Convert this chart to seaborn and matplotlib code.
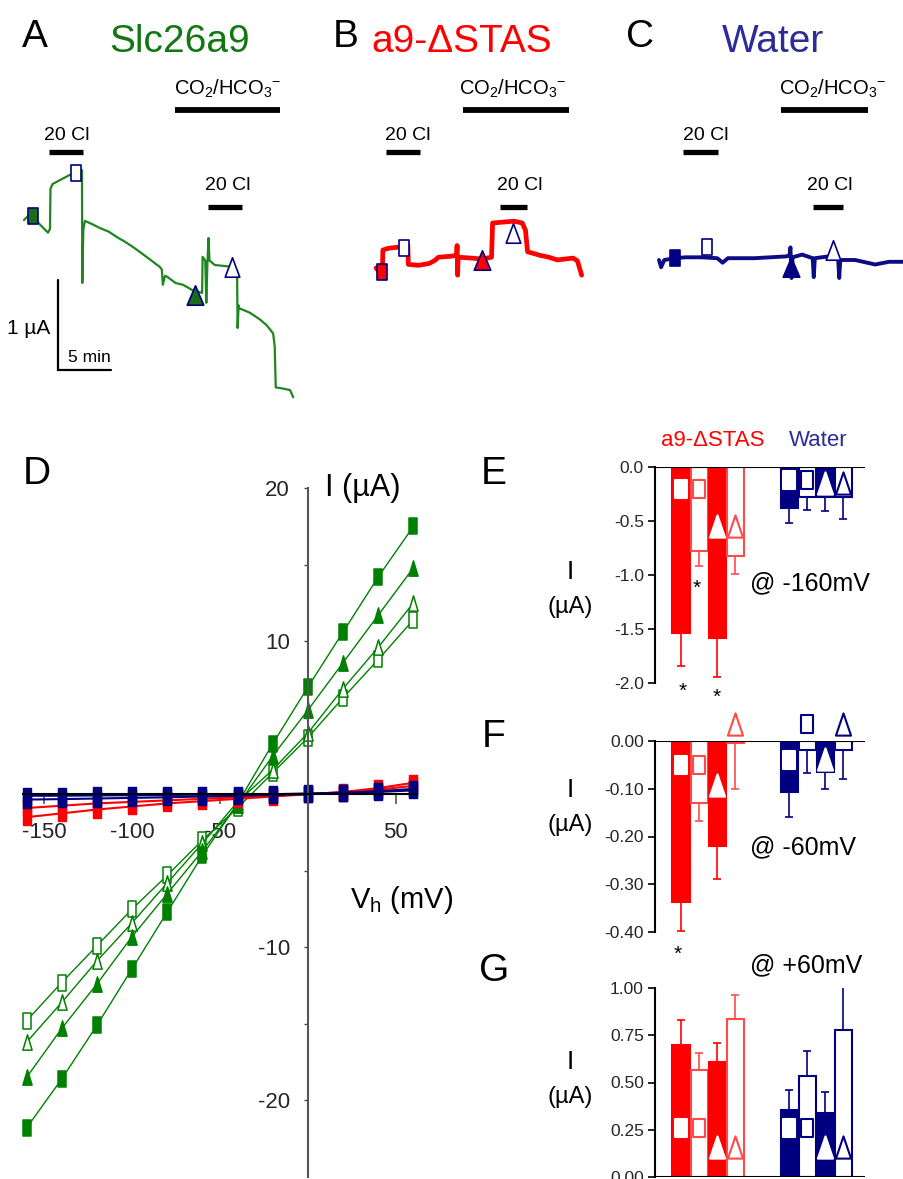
import matplotlib
matplotlib.use("Agg")
import matplotlib.pyplot as plt
from matplotlib.path import Path
from matplotlib.lines import Line2D
from matplotlib.ticker import FormatStrFormatter, FixedLocator
import seaborn as sns

sns.set_theme(style="white")
plt.rcParams["font.family"] = ["Liberation Sans Narrow", "Liberation Sans", "DejaVu Sans"]
plt.rcParams["axes.unicode_minus"] = False

GREEN = "#1f861f"
GREEN_D = "#008000"
GREEN_T = "#117711"
RED = "#ff0000"
RED_L = "#ff4a4a"
NAVY = "#000080"
NAVY_T = "#2b2b99"

# ---- traces (time in min, current in uA, relative to start) ----
TA_T = [0.0, 0.5, 0.85, 1.5, 2.26, 2.45, 2.5, 2.7, 3.5, 4.3, 4.9, 5.4, 5.47, 5.5, 5.6, 5.75,
        6.5, 7.17, 8.0, 8.77, 9.5, 10.28, 11.1, 11.9, 12.8, 13.0, 13.1, 13.3, 13.5, 14.3, 15.0,
        15.9, 16.5, 16.8, 16.85, 17.1, 17.2, 17.3, 17.4, 17.5, 18.0, 18.8, 19.6, 20.1, 20.15,
        20.25, 20.3, 21.3, 22.2, 22.9, 23.5, 23.65, 23.75, 24.3, 25.1, 25.4]
TA_I = [0.0, 0.06, 0.04, -0.05, -0.14, -0.10, 0.35, 0.40, 0.45, 0.50, 0.53, 0.56, 0.55, -0.70,
        -0.10, -0.01, -0.05, -0.09, -0.13, -0.19, -0.24, -0.30, -0.37, -0.44, -0.52, -0.55, -0.72,
        -0.62, -0.63, -0.70, -0.72, -0.78, -0.80, -0.81, -0.41, -0.45, -0.92, -0.50, -0.20, -0.45,
        -0.50, -0.51, -0.52, -0.56, -1.20, -0.95, -0.98, -1.03, -1.10, -1.17, -1.26, -1.40, -1.86,
        -1.87, -1.89, -1.97]
TA_MARK_T = [0.85, 4.9, 16.1, 19.6]
TA_MARK_I = [0.04, 0.52, -0.83, -0.52]

TB_T = [0.0, 0.3, 0.6, 0.65, 1.2, 2.0, 2.6, 3.0, 3.05, 4.0, 5.0, 5.5, 5.9, 7.0, 7.6, 7.65, 7.7,
        7.75, 9.0, 10.0, 10.9, 11.0, 12.0, 13.0, 13.8, 14.1, 14.3, 15.5, 16.3, 17.1, 18.6, 19.0, 19.4]
TB_I = [0.0, -0.04, -0.03, 0.20, 0.22, 0.23, 0.24, 0.26, 0.04, 0.03, 0.05, 0.08, 0.12, 0.13, 0.14,
        0.25, -0.08, 0.12, 0.11, 0.10, 0.12, 0.50, 0.51, 0.52, 0.50, 0.42, 0.18, 0.14, 0.12, 0.09,
        0.11, 0.08, -0.08]
TB_MARK_T = [0.57, 2.64, 10.0, 12.9]
TB_MARK_I = [-0.04, 0.22, 0.09, 0.39]

TC_T = [0.0, 0.2, 0.5, 1.5, 2.5, 4.0, 5.5, 6.0, 6.5, 9.0, 12.0, 12.3, 12.4, 12.5, 12.6, 13.5, 14.5,
        14.6, 14.7, 16.0, 16.9, 17.0, 17.1, 18.5, 20.4, 21.7, 23.2]
TC_I = [0.0, -0.08, 0.0, 0.02, 0.03, 0.03, 0.02, -0.03, 0.02, 0.02, 0.04, 0.05, 0.14, -0.20, 0.03,
        0.06, 0.02, -0.19, 0.02, 0.04, 0.02, -0.20, 0.0, 0.0, -0.05, -0.02, -0.02]
TC_MARK_T = [1.5, 4.5, 12.5, 16.4]
TC_MARK_I = [0.02, 0.14, -0.08, 0.11]

# ---- I/V curves ----
VH = [-160, -140, -120, -100, -80, -60, -40, -20, 0, 20, 40, 60]
SLC_FSQ = [-21.8, -18.6, -15.1, -11.4, -7.7, -4.0, -0.6, 3.3, 7.0, 10.6, 14.2, 17.5]
SLC_OSQ = [-14.8, -12.3, -9.9, -7.5, -5.3, -3.0, -0.9, 1.4, 3.7, 6.3, 8.8, 11.4]
SLC_FTRI = [-18.5, -15.3, -12.4, -9.3, -6.5, -3.7, -0.7, 2.5, 5.5, 8.6, 11.7, 14.8]
SLC_OTRI = [-16.2, -13.6, -10.9, -8.4, -5.8, -3.2, -0.5, 1.6, 4.0, 6.9, 9.6, 12.5]
STAS_1 = [-1.5, -1.25, -1.0, -0.8, -0.6, -0.45, -0.3, -0.15, 0.0, 0.15, 0.4, 0.75]
STAS_2 = [-0.9, -0.75, -0.6, -0.5, -0.4, -0.3, -0.2, -0.1, 0.0, 0.1, 0.3, 0.55]
WATER_1 = [-0.35, -0.32, -0.28, -0.24, -0.2, -0.15, -0.1, -0.05, 0.0, 0.1, 0.2, 0.35]
WATER_2 = [-0.1, -0.1, -0.08, -0.07, -0.05, -0.03, -0.02, 0.0, 0.05, 0.1, 0.15, 0.25]

# ---- bar panels: a9-dSTAS (4 bars) then Water (4 bars) ----
BAR_POS = [0, 1, 2, 3, 6, 7, 8, 9]
E_MEAN = [-1.54, -0.78, -1.58, -0.82, -0.38, -0.28, -0.28, -0.28]
E_ERR = [0.30, 0.14, 0.36, 0.17, 0.14, 0.12, 0.13, 0.20]
E_SYM = [-0.20, -0.20, -0.55, -0.55, -0.12, -0.12, -0.15, -0.15]
F_MEAN = [-0.337, -0.129, -0.220, -0.004, -0.106, -0.018, -0.065, -0.018]
F_ERR = [0.060, 0.038, 0.069, 0.096, 0.053, 0.049, 0.035, 0.062]
F_SYM = [-0.05, -0.05, -0.092, 0.035, -0.04, 0.035, -0.038, 0.035]
G_MEAN = [0.70, 0.565, 0.61, 0.835, 0.355, 0.535, 0.34, 0.777]
G_ERR = [0.13, 0.09, 0.10, 0.13, 0.105, 0.13, 0.11, 0.25]
G_SYM = [0.26, 0.26, 0.16, 0.16, 0.26, 0.26, 0.16, 0.16]

W, H = 904, 1179
fig = plt.figure(figsize=(W / 100, H / 100), dpi=100)


def box(x0, y0, x1, y1):
    return fig.add_axes([x0 / W, 1 - y1 / H, (x1 - x0) / W, (y1 - y0) / H])


def ftext(x, y, s, size, color="black", ha="center", **kw):
    fig.text(x / W, 1 - y / H, s, fontsize=size, color=color, ha=ha, va="center", **kw)


def fbar(x0, x1, y, lw=4.2):
    fig.add_artist(Line2D([x0 / W, x1 / W], [1 - y / H, 1 - y / H], color="black",
                          lw=lw, solid_capstyle="butt"))


def rect_mk(r):
    return Path([(-r, -1), (r, -1), (r, 1), (-r, 1), (-r, -1)], closed=True)


def tri_mk(r):
    return Path([(0, 1), (-r, -1), (r, -1), (0, 1)], closed=True)


# ---------------- trace panels ----------------
PX_MIN, PX_UA = 10.6, 90.0


def trace_axes(x0, y0, x1, y1, ox, oy):
    ax = box(x0, y0, x1, y1)
    ax.set_xlim((x0 - ox) / PX_MIN, (x1 - ox) / PX_MIN)
    ax.set_ylim((oy - y1) / PX_UA, (oy - y0) / PX_UA)
    ax.axis("off")
    return ax


trace_specs = [
    ((10, 150, 310, 410, 24, 220), TA_T, TA_I, TA_MARK_T, TA_MARK_I, GREEN, 1.6, "#1a6b1a"),
    ((360, 150, 600, 300, 376, 268), TB_T, TB_I, TB_MARK_T, TB_MARK_I, RED, 3.4, RED),
    ((645, 150, 904, 300, 659, 260), TC_T, TC_I, TC_MARK_T, TC_MARK_I, "#0c0c85", 2.8, NAVY),
]
trace_axes_list = []
for bx, tt, ii, mt, mi, col, lw, fill in trace_specs:
    ax = trace_axes(*bx)
    sns.lineplot(x=tt, y=ii, ax=ax, color=col, lw=lw, sort=False, estimator=None)
    shapes = [rect_mk(0.67), rect_mk(0.67), tri_mk(0.85), tri_mk(0.75)]
    sizes = [11, 11, 14, 14]
    fills = [fill, "white", fill, "white"]
    for t, i, mk, ms, fc in zip(mt, mi, shapes, sizes, fills):
        ax.plot([t], [i], marker=mk, ms=ms, mfc=fc, mec=NAVY, mew=1.2, ls="none", zorder=4,
                clip_on=False)
    trace_axes_list.append(ax)

# scale bar (1 uA, 5 min) in panel A data units
axA = trace_axes_list[0]
axA.plot([3.2, 3.2, 8.2], [-0.67, -1.67, -1.67], color="black", lw=1.6, clip_on=False,
         solid_joinstyle="miter")
ftext(29, 328, "1 µA", 15)
ftext(89, 357, "5 min", 12.5)

CO2 = r"CO$_\mathregular{2}$/HCO$_\mathregular{3}$$^\mathregular{-}$"
for letter, lx, title, tx, tcol, co2x, co2b, cl1x, cl1b, cl2x, cl2b in [
    ("A", 35, "Slc26a9", 180, GREEN_T, 228, (175, 280), 67, (49, 83), 228, (208, 242)),
    ("B", 346, "a9-ΔSTAS", 462, RED, 513, (463, 569), 408, (386, 420), 520, (500, 527)),
    ("C", 640, "Water", 773, NAVY_T, 833, (781, 868), 706, (683, 718), 830, (813, 843)),
]:
    ftext(lx, 37, letter, 28)
    ftext(tx, 42, title, 28, color=tcol)
    ftext(co2x, 89, CO2, 14.5)
    fbar(*co2b, 110)
    ftext(cl1x, 136, "20 Cl", 14)
    fbar(*cl1b, 152, lw=3.8)
    ftext(cl2x, 185, "20 Cl", 14)
    fbar(*cl2b, 207, lw=3.8)

# ---------------- panel D: I/V ----------------
axD = box(23, 488, 417, 1177)
axD.set_facecolor("none")
SQ_D, TRI_D = rect_mk(0.55), tri_mk(0.6)
for vals, mk, fc in [(SLC_OSQ, SQ_D, "white"), (SLC_OTRI, TRI_D, "white"),
                     (SLC_FTRI, TRI_D, GREEN_D), (SLC_FSQ, SQ_D, GREEN_D)]:
    sns.lineplot(x=VH, y=vals, ax=axD, color=GREEN_D, lw=1.0, marker=mk, markersize=11,
                 markerfacecolor=fc, markeredgecolor=GREEN_D, markeredgewidth=1.1,
                 sort=False, estimator=None, clip_on=False)
for vals, col in [(STAS_2, RED), (STAS_1, RED), (WATER_1, NAVY), (WATER_2, NAVY)]:
    sns.lineplot(x=VH, y=vals, ax=axD, color=col, lw=1.5, marker=SQ_D, markersize=11,
                 markerfacecolor=col, markeredgecolor=col, markeredgewidth=1.0,
                 sort=False, estimator=None, clip_on=False)
axD.set_xlim(-162, 62)
axD.set_ylim(-25, 20)
for s in ["top", "right"]:
    axD.spines[s].set_visible(False)
axD.spines["left"].set_position(("data", 0))
axD.spines["bottom"].set_position(("data", 0))
axD.spines["left"].set_color("#555555")
axD.spines["left"].set_linewidth(1.5)
axD.spines["bottom"].set_color("black")
axD.spines["bottom"].set_linewidth(1.5)
axD.set_xticks([-150, -100, -50, 50])
axD.set_yticks([-20, -10, 10, 20])
axD.yaxis.set_minor_locator(FixedLocator([-15, -5, 5, 15]))
axD.tick_params(axis="x", direction="out", length=7, width=1.2, color="#555555",
                labelsize=16, pad=13, bottom=True)
axD.tick_params(axis="y", which="both", direction="out", length=3, width=1.0, color="#34468a",
                labelsize=16, pad=10, left=True)
axD.set_xlabel("")
axD.set_ylabel("")
axD.grid(False)
ftext(37, 474, "D", 28)
ftext(325, 488, "I (µA)", 22, ha="left")
ftext(350, 900, r"V$_\mathregular{h}$ (mV)", 21, ha="left")

# ---------------- panels E, F, G: bars ----------------
SQ_B, TRI_B = rect_mk(0.68), tri_mk(0.68)


def bar_panel(bx, ylim, ticks, fmt, means, errs, syms):
    ax = box(*bx)
    ax.set_facecolor("none")
    for i, (p, m, e, s) in enumerate(zip(BAR_POS, means, errs, syms)):
        col = RED if i < 4 else NAVY
        filled = i % 2 == 0
        edge = col if filled else (RED_L if i < 4 else NAVY)
        ax.bar(p, m, width=0.96, color=col if filled else "white", edgecolor=edge,
               linewidth=1.5, zorder=2)
        lo, hi = (e, 0) if m < 0 else (0, e)
        ax.errorbar(p, m, yerr=[[lo], [hi]], fmt="none", ecolor=edge, elinewidth=1.2,
                    capsize=3, capthick=1.2, zorder=1)
        is_sq = (i % 4) < 2
        ax.plot([p], [s], marker=SQ_B if is_sq else TRI_B, ms=13 if is_sq else 16,
                mfc="white", mec="white" if filled else edge, mew=1.5, ls="none",
                clip_on=False, zorder=3)
    ax.axhline(0, color="black", lw=1.5, zorder=4)
    ax.set_xlim(-1.45, 10.2)
    ax.set_ylim(*ylim)
    for s in ["top", "right", "bottom"]:
        ax.spines[s].set_visible(False)
    ax.spines["left"].set_color("black")
    ax.spines["left"].set_linewidth(1.5)
    ax.set_xticks([])
    ax.set_yticks(ticks)
    ax.yaxis.set_major_formatter(FormatStrFormatter(fmt))
    ax.tick_params(axis="y", direction="out", length=5, width=1.2, color="black",
                   labelsize=12.5, pad=3, left=True)
    ax.grid(False)
    return ax


bar_panel((655, 467, 865, 683), (-2.0, 0.0), [0, -0.5, -1.0, -1.5, -2.0], "%.1f",
          E_MEAN, E_ERR, E_SYM)
bar_panel((655, 741, 865, 932), (-0.40, 0.0), [0, -0.1, -0.2, -0.3, -0.4], "%.2f",
          F_MEAN, F_ERR, F_SYM)
bar_panel((655, 988, 865, 1177), (0.0, 1.0), [0, 0.25, 0.5, 0.75, 1.0], "%.2f",
          G_MEAN, G_ERR, G_SYM)

for letter, ly, iy, cond, cy in [("E", 474, 572, "@ -160mV", 583),
                                 ("F", 737, 790, "@ -60mV", 847),
                                 ("G", 971, 1062, "@ +60mV", 965)]:
    ftext(494, ly, letter, 28)
    ftext(570, iy, "I", 19)
    ftext(570, iy + 35, "(µA)", 17)
    ftext(750, cy, cond, 18, ha="left")

ftext(713, 440, "a9-ΔSTAS", 16, color=RED)
ftext(818, 440, "Water", 16, color=NAVY_T)
for ax_, ay in [(683, 691), (697, 588), (717, 697), (678, 954)]:
    ftext(ax_, ay, "*", 15)

fig.savefig("out.png", dpi=100)
